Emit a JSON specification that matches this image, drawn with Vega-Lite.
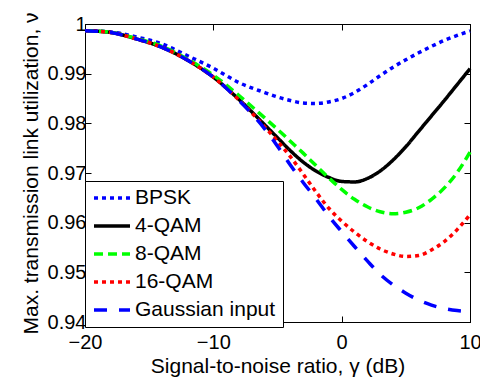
{
  "$schema": "https://vega.github.io/schema/vega-lite/v6.json",
  "width": 385,
  "height": 298,
  "autosize": {"type": "none"},
  "padding": {"left": 85, "top": 24, "right": 10, "bottom": 57},
  "config": {
    "font": "Liberation Sans",
    "view": {"stroke": "black", "strokeWidth": 1},
    "axis": {
      "grid": false,
      "domainColor": "black",
      "tickColor": "black",
      "labelColor": "black",
      "titleColor": "black",
      "labelFontSize": 20,
      "titleFontSize": 21,
      "titleFontWeight": "normal",
      "tickSize": -6,
      "domainWidth": 1
    },
    "legend": {
      "symbolType": "stroke",
      "symbolSize": 1296,
      "symbolStrokeWidth": 3.5,
      "labelFontSize": 21,
      "labelColor": "black",
      "padding": 7,
      "rowPadding": 7,
      "labelOffset": 3,
      "clipHeight": 20,
      "strokeColor": "black",
      "fillColor": "white",
      "cornerRadius": 0
    }
  },
  "data": {
    "values": [
      {"s": "BPSK", "x": -20, "y": 0.99865}, {"s": "BPSK", "x": -18, "y": 0.9984}, {"s": "BPSK", "x": -16, "y": 0.9974}, {"s": "BPSK", "x": -14, "y": 0.9960}, {"s": "BPSK", "x": -12, "y": 0.9936}, {"s": "BPSK", "x": -10, "y": 0.9911}, {"s": "BPSK", "x": -8, "y": 0.9882}, {"s": "BPSK", "x": -6, "y": 0.9862}, {"s": "BPSK", "x": -5, "y": 0.9853}, {"s": "BPSK", "x": -4, "y": 0.9846}, {"s": "BPSK", "x": -3, "y": 0.9841}, {"s": "BPSK", "x": -2, "y": 0.9840}, {"s": "BPSK", "x": -1, "y": 0.9843}, {"s": "BPSK", "x": 0, "y": 0.9850}, {"s": "BPSK", "x": 1, "y": 0.9862}, {"s": "BPSK", "x": 2, "y": 0.9878}, {"s": "BPSK", "x": 3, "y": 0.9896}, {"s": "BPSK", "x": 4, "y": 0.9913}, {"s": "BPSK", "x": 5, "y": 0.9928}, {"s": "BPSK", "x": 6, "y": 0.9942}, {"s": "BPSK", "x": 7, "y": 0.9955}, {"s": "BPSK", "x": 8, "y": 0.9967}, {"s": "BPSK", "x": 9, "y": 0.9977}, {"s": "BPSK", "x": 10, "y": 0.9986},

      {"s": "4-QAM", "x": -20, "y": 0.99865}, {"s": "4-QAM", "x": -18, "y": 0.9983}, {"s": "4-QAM", "x": -16, "y": 0.9970}, {"s": "4-QAM", "x": -14, "y": 0.9953}, {"s": "4-QAM", "x": -12, "y": 0.9927}, {"s": "4-QAM", "x": -10, "y": 0.9893}, {"s": "4-QAM", "x": -8, "y": 0.9848}, {"s": "4-QAM", "x": -6, "y": 0.9797}, {"s": "4-QAM", "x": -5, "y": 0.9771}, {"s": "4-QAM", "x": -4, "y": 0.9745}, {"s": "4-QAM", "x": -3, "y": 0.9722}, {"s": "4-QAM", "x": -2, "y": 0.9704}, {"s": "4-QAM", "x": -1, "y": 0.9691}, {"s": "4-QAM", "x": 0, "y": 0.9683}, {"s": "4-QAM", "x": 1, "y": 0.9682}, {"s": "4-QAM", "x": 2, "y": 0.9689}, {"s": "4-QAM", "x": 3, "y": 0.9704}, {"s": "4-QAM", "x": 4, "y": 0.9726}, {"s": "4-QAM", "x": 5, "y": 0.9753}, {"s": "4-QAM", "x": 6, "y": 0.9784}, {"s": "4-QAM", "x": 7, "y": 0.9815}, {"s": "4-QAM", "x": 8, "y": 0.9846}, {"s": "4-QAM", "x": 9, "y": 0.9878}, {"s": "4-QAM", "x": 10, "y": 0.9910},

      {"s": "8-QAM", "x": -20, "y": 0.99865}, {"s": "8-QAM", "x": -18, "y": 0.9983}, {"s": "8-QAM", "x": -16, "y": 0.9971}, {"s": "8-QAM", "x": -14, "y": 0.9955}, {"s": "8-QAM", "x": -12, "y": 0.9929}, {"s": "8-QAM", "x": -10, "y": 0.9897}, {"s": "8-QAM", "x": -8, "y": 0.9856}, {"s": "8-QAM", "x": -6, "y": 0.9811}, {"s": "8-QAM", "x": -5, "y": 0.9788}, {"s": "8-QAM", "x": -4, "y": 0.9764}, {"s": "8-QAM", "x": -3, "y": 0.9740}, {"s": "8-QAM", "x": -2, "y": 0.9715}, {"s": "8-QAM", "x": -1, "y": 0.9690}, {"s": "8-QAM", "x": 0, "y": 0.9667}, {"s": "8-QAM", "x": 1, "y": 0.9647}, {"s": "8-QAM", "x": 2, "y": 0.9632}, {"s": "8-QAM", "x": 3, "y": 0.9622}, {"s": "8-QAM", "x": 4, "y": 0.9618}, {"s": "8-QAM", "x": 5, "y": 0.9621}, {"s": "8-QAM", "x": 6, "y": 0.9630}, {"s": "8-QAM", "x": 7, "y": 0.9647}, {"s": "8-QAM", "x": 8, "y": 0.9670}, {"s": "8-QAM", "x": 9, "y": 0.9701}, {"s": "8-QAM", "x": 10, "y": 0.9742},

      {"s": "16-QAM", "x": -20, "y": 0.99865}, {"s": "16-QAM", "x": -18, "y": 0.9983}, {"s": "16-QAM", "x": -16, "y": 0.9970}, {"s": "16-QAM", "x": -14, "y": 0.9953}, {"s": "16-QAM", "x": -12, "y": 0.9927}, {"s": "16-QAM", "x": -10, "y": 0.9893}, {"s": "16-QAM", "x": -8, "y": 0.9847}, {"s": "16-QAM", "x": -6, "y": 0.9793}, {"s": "16-QAM", "x": -5, "y": 0.9764}, {"s": "16-QAM", "x": -4, "y": 0.9733}, {"s": "16-QAM", "x": -3, "y": 0.9698}, {"s": "16-QAM", "x": -2, "y": 0.9662}, {"s": "16-QAM", "x": -1, "y": 0.9629}, {"s": "16-QAM", "x": 0, "y": 0.9603}, {"s": "16-QAM", "x": 1, "y": 0.9581}, {"s": "16-QAM", "x": 2, "y": 0.9562}, {"s": "16-QAM", "x": 3, "y": 0.9547}, {"s": "16-QAM", "x": 4, "y": 0.9537}, {"s": "16-QAM", "x": 5, "y": 0.9532}, {"s": "16-QAM", "x": 6, "y": 0.9534}, {"s": "16-QAM", "x": 7, "y": 0.9545}, {"s": "16-QAM", "x": 8, "y": 0.9562}, {"s": "16-QAM", "x": 9, "y": 0.9586}, {"s": "16-QAM", "x": 10, "y": 0.9616},

      {"s": "Gaussian input", "x": -20, "y": 0.99865}, {"s": "Gaussian input", "x": -18, "y": 0.9983}, {"s": "Gaussian input", "x": -16, "y": 0.9970}, {"s": "Gaussian input", "x": -14, "y": 0.9953}, {"s": "Gaussian input", "x": -12, "y": 0.9927}, {"s": "Gaussian input", "x": -10, "y": 0.9893}, {"s": "Gaussian input", "x": -8, "y": 0.9846}, {"s": "Gaussian input", "x": -6, "y": 0.9789}, {"s": "Gaussian input", "x": -5, "y": 0.9754}, {"s": "Gaussian input", "x": -4, "y": 0.9716}, {"s": "Gaussian input", "x": -3, "y": 0.9681}, {"s": "Gaussian input", "x": -2, "y": 0.9648}, {"s": "Gaussian input", "x": -1, "y": 0.9613}, {"s": "Gaussian input", "x": 0, "y": 0.9582}, {"s": "Gaussian input", "x": 1, "y": 0.9552}, {"s": "Gaussian input", "x": 2, "y": 0.9523}, {"s": "Gaussian input", "x": 3, "y": 0.9496}, {"s": "Gaussian input", "x": 4, "y": 0.9475}, {"s": "Gaussian input", "x": 5, "y": 0.9458}, {"s": "Gaussian input", "x": 6, "y": 0.9444}, {"s": "Gaussian input", "x": 7, "y": 0.9434}, {"s": "Gaussian input", "x": 8, "y": 0.9427}, {"s": "Gaussian input", "x": 9, "y": 0.9423}, {"s": "Gaussian input", "x": 10, "y": 0.9421}
    ]
  },
  "layer": [
    {
      "mark": {"type": "line", "strokeWidth": 3.5, "interpolate": "monotone", "strokeCap": "butt"},
      "encoding": {
        "x": {
          "field": "x", "type": "quantitative",
          "scale": {"domain": [-20, 10], "nice": false},
          "axis": {"values": [-20, -10, 0, 10], "title": "Signal-to-noise ratio, γ (dB)", "labelPadding": 16, "titlePadding": 3, "labelFlush": false}
        },
        "y": {
          "field": "y", "type": "quantitative",
          "scale": {"domain": [0.94, 1], "nice": false, "zero": false},
          "axis": {"values": [0.94, 0.95, 0.96, 0.97, 0.98, 0.99, 1], "format": ".2~f", "title": "Max. transmission link utilization, ν", "labelPadding": 5, "titlePadding": 6, "labelFlush": false}
        },
        "color": {
          "field": "s", "type": "nominal",
          "scale": {"domain": ["BPSK", "4-QAM", "8-QAM", "16-QAM", "Gaussian input"], "range": ["#0000ff", "#000000", "#00ff00", "#ff0000", "#0000ff"]},
          "legend": {"title": null, "orient": "none", "legendX": 0, "legendY": 157}
        },
        "strokeDash": {
          "field": "s", "type": "nominal",
          "scale": {"domain": ["BPSK", "4-QAM", "8-QAM", "16-QAM", "Gaussian input"], "range": [[4, 4], [1, 0], [9, 5], [4, 4], [13, 12]]},
          "legend": {"title": null, "orient": "none", "legendX": 0, "legendY": 157}
        }
      }
    },
    {
      "mark": {"type": "line", "opacity": 0},
      "encoding": {
        "x": {"field": "x", "type": "quantitative", "axis": {"orient": "top", "values": [-20, -10, 0, 10], "labels": false, "title": null}},
        "y": {"field": "y", "type": "quantitative", "axis": {"orient": "right", "values": [0.94, 0.95, 0.96, 0.97, 0.98, 0.99, 1], "labels": false, "title": null}},
        "detail": {"field": "s"}
      }
    }
  ],
  "resolve": {"axis": {"x": "independent", "y": "independent"}}
}
